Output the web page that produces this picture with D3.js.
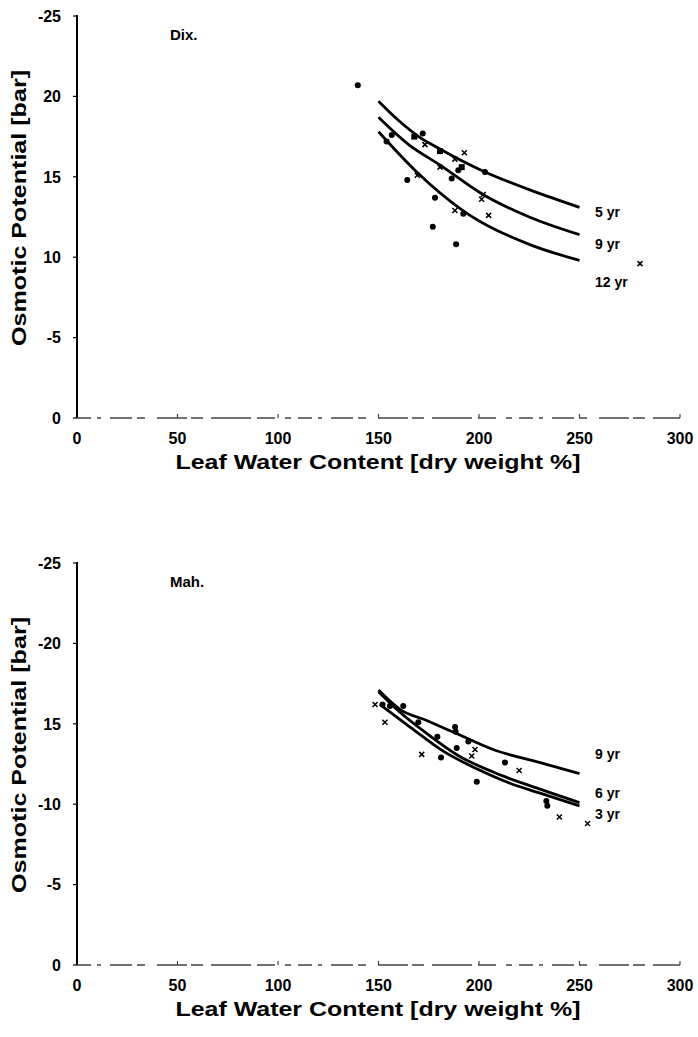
<!DOCTYPE html>
<html><head><meta charset="utf-8">
<script src="https://cdn.jsdelivr.net/npm/d3@7"></script>
<style>body{margin:0;background:#fff}svg{display:block}text{font-family:"Liberation Sans",Arial,sans-serif;font-weight:bold;fill:#000}</style>
</head><body>
<svg id="c" width="698" height="1037"></svg>
<script>
// ---- data ----
const xTicks = [0, 50, 100, 150, 200, 250, 300];
const yTicks = [0, 5, 10, 15, 20, 25];
const yTickLabelsDix = ["0", "-5", "10", "15", "20", "-25"];
const yTickLabelsMah = ["0", "-5", "-10", "15", "-20", "-25"];

// Dix. panel
const dixDots = [[139.7,20.7],[156.6,17.6],[172,17.7],[189.7,15.4],[203,15.3],[186.4,14.9],[154,17.2],[164.3,14.8],[178.1,13.7],[192.2,12.7],[177,11.9],[188.6,10.8]];
const dixSquares = [[167.8,17.5],[180.6,16.6],[191.4,15.6]];
const dixCrosses = [[173.1,17.0],[192.7,16.5],[188,16.1],[180.6,15.6],[169.3,15.1],[202.1,13.9],[201.3,13.6],[188,12.9],[204.8,12.6],[280.1,9.6]];
const dixCurve5 = [[150,19.7],[160,18.5],[170,17.5],[181,16.7],[203,15.3],[225,14.2],[250,13.1]];
const dixCurve9 = [[150,18.7],[165,17.0],[181,15.7],[202,13.9],[225,12.5],[250,11.4]];
const dixCurve12 = [[150,17.8],[169,15.3],[192,12.9],[225,10.8],[250,9.8]];
const dixCurveNames = ["5 yr", "9 yr", "12 yr"];
const dixLabelValues = [12.8, 10.85, 8.45];

// Mah. panel
const mahDots = [[152,16.2],[155.7,16.1],[162.3,16.1],[169.8,15.1],[188.1,14.8],[188.4,14.5],[179.3,14.2],[194.7,13.9],[188.9,13.5],[181.1,12.9],[212.9,12.6],[198.9,11.4],[233.5,10.2],[234,9.9]];
const mahCrosses = [[148.3,16.2],[153.2,15.1],[198,13.4],[196.4,13.0],[171.5,13.1],[220,12.1],[240,9.2],[254,8.8]];
const mahCurve9 = [[150,17.1],[160.7,15.9],[174,15.2],[190.5,14.3],[207,13.4],[230,12.6],[250,11.9]];
const mahCurve6 = [[150,17.0],[160,15.8],[174,14.4],[190,13.0],[207,12.0],[230,10.95],[250,10.1]];
const mahCurve3 = [[150.7,16.2],[165.7,14.8],[182.2,13.3],[198.9,12.2],[215.4,11.3],[230,10.7],[250,9.9]];
const mahCurveNames = ["9 yr", "6 yr", "3 yr"];
const mahLabelValues = [13.1, 10.7, 9.4];

// ---- drawing ----
const svg = d3.select("#c");

function panel(cfg, title, yLabels, dots, squares, crosses, curves, names, labelVals) {
  const g = svg.append("g");
  const x = d3.scaleLinear().domain([0, 300]).range([77, 680]);
  const y = d3.scaleLinear().domain([0, 25]).range([cfg.y0, cfg.y25]);

  // y axis
  g.append("line").attr("x1", x(0)).attr("x2", x(0)).attr("y1", y(25) - 1).attr("y2", y(0))
    .attr("stroke", "#000").attr("stroke-width", 2);
  g.selectAll(".yt").data(yTicks).join("line")
    .attr("x1", x(0) - 4).attr("x2", x(0)).attr("y1", d => y(d)).attr("y2", d => y(d))
    .attr("stroke", "#000").attr("stroke-width", 1.2);
  g.selectAll(".yl").data(yTicks).join("text")
    .attr("x", 61).attr("y", d => y(d)).attr("dy", "0.36em").attr("text-anchor", "end")
    .attr("font-size", 16).text((d, i) => yLabels[i]);

  // x axis (broken scanned line)
  g.append("line").attr("x1", x(0)).attr("x2", x(300)).attr("y1", y(0)).attr("y2", y(0))
    .attr("stroke", "#444").attr("stroke-width", 1.5)
    .attr("stroke-dasharray", "14 6 4 9 22 5 8 12 30 4 12 8 40 6 18 10 6 7");
  g.selectAll(".xt").data(xTicks.slice(1)).join("line")
    .attr("x1", d => x(d)).attr("x2", d => x(d)).attr("y1", y(0)).attr("y2", y(0) - 4)
    .attr("stroke", "#444").attr("stroke-width", 1.2);
  g.selectAll(".xl").data(xTicks).join("text")
    .attr("x", d => x(d)).attr("y", y(0) + cfg.tickDy).attr("dy", "0.36em").attr("text-anchor", "middle")
    .attr("font-size", 16).text(d => d);

  // axis titles
  g.append("text").attr("x", 378).attr("y", y(0) + cfg.titleDy).attr("dy", "0.36em").attr("text-anchor", "middle")
    .attr("font-size", 20).attr("textLength", 405).attr("lengthAdjust", "spacingAndGlyphs")
    .text("Leaf Water Content [dry weight %]");
  g.append("text").attr("transform", `translate(19,${cfg.ytitleY}) rotate(-90)`).attr("dy", "0.36em")
    .attr("text-anchor", "middle").attr("font-size", 20).attr("textLength", 276).attr("lengthAdjust", "spacingAndGlyphs")
    .text("Osmotic Potential [bar]");

  // panel name
  g.append("text").attr("x", 170).attr("y", cfg.nameY).attr("dy", "0.36em").attr("font-size", 15).text(title);

  // curves
  const line = d3.line().x(d => x(d[0])).y(d => y(d[1])).curve(d3.curveMonotoneX);
  curves.forEach(c => g.append("path").attr("d", line(c)).attr("fill", "none")
    .attr("stroke", "#000").attr("stroke-width", 2.8));
  g.selectAll(".cl").data(names).join("text")
    .attr("x", 595).attr("y", (d, i) => y(labelVals[i])).attr("dy", "0.36em")
    .attr("font-size", 14).text(d => d);

  // points
  g.selectAll(".dot").data(dots).join("circle")
    .attr("cx", d => x(d[0])).attr("cy", d => y(d[1])).attr("r", 3).attr("fill", "#000");
  g.selectAll(".sq").data(squares).join("rect")
    .attr("x", d => x(d[0]) - 3).attr("y", d => y(d[1]) - 3).attr("width", 6).attr("height", 6).attr("fill", "#000");
  g.selectAll(".cr").data(crosses).join("path")
    .attr("d", d => { const cx = x(d[0]), cy = y(d[1]), s = 2.5;
      return `M${cx - s},${cy - s}L${cx + s},${cy + s}M${cx - s},${cy + s}L${cx + s},${cy - s}`; })
    .attr("stroke", "#000").attr("stroke-width", 1.5).attr("fill", "none");
}

panel({y0: 418, y25: 16, tickDy: 20, titleDy: 44, ytitleY: 208, nameY: 35}, "Dix.", yTickLabelsDix,
  dixDots, dixSquares, dixCrosses, [dixCurve5, dixCurve9, dixCurve12], dixCurveNames, dixLabelValues);
panel({y0: 965, y25: 563, tickDy: 20, titleDy: 44, ytitleY: 755, nameY: 582}, "Mah.", yTickLabelsMah,
  mahDots, [], mahCrosses, [mahCurve9, mahCurve6, mahCurve3], mahCurveNames, mahLabelValues);
</script>
</body></html>
